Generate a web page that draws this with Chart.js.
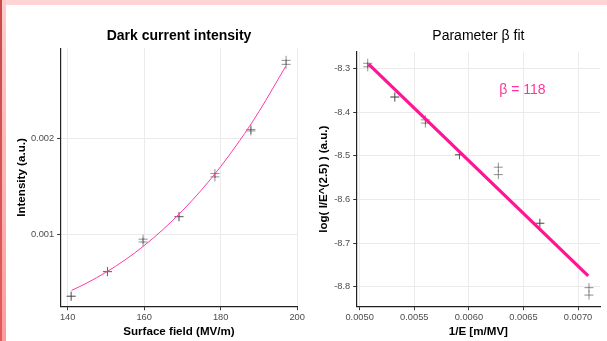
<!DOCTYPE html>
<html>
<head>
<meta charset="utf-8">
<script src="https://cdn.jsdelivr.net/npm/chart.js@4"></script>
<style>
  html, body { margin: 0; padding: 0; background: #fff; }
  body { width: 607px; height: 341px; position: relative; overflow: hidden; }
  .band-top { position: absolute; left: 0; top: 0; width: 607px; height: 5px; background: #ffd4d4; }
  .band-left { position: absolute; left: 0; top: 0; width: 6px; height: 341px;
    background: linear-gradient(#ffcccc, #ff9c9c); }
  .band-left-edge { position: absolute; left: 0; top: 0; width: 2px; height: 341px;
    background: linear-gradient(#c84a4a, #e35c5c); }
  .box { position: absolute; top: 0; }
</style>
</head>
<body>
<div class="band-top"></div>
<div class="band-left"></div>
<div class="band-left-edge"></div>
<div class="box" style="left:0"><canvas id="darkCurrent" width="330" height="341"></canvas></div>
<div class="box" style="left:300px"><canvas id="betaFit" width="307" height="341"></canvas></div>
<script>
// surface field (MV/m) and two intensity readings per field
const fieldMV = [140.9, 150.4, 159.7, 169.1, 178.5, 187.9, 197.1];
const intensityRun1 = [0.000355, 0.000609, 0.00095, 0.001184, 0.001637, 0.002098, 0.002822];
const intensityRun2 = [0.000350, 0.000612, 0.00092, 0.001188, 0.001602, 0.002083, 0.00278];

// fitted curve
const fitField = [141, 145, 150, 155, 160, 165, 170, 175, 180, 185, 190, 197];
const fitIntensity = [0.000413, 0.000491, 0.000603, 0.000733, 0.000883, 0.001054, 0.001248, 0.001466, 0.00171, 0.001983, 0.002285, 0.00276];

// Fowler-Nordheim plot: 1/E vs log(I/E^2.5)
const invField = [0.005074, 0.005322, 0.005602, 0.005914, 0.00627, 0.00665, 0.0071];
const logRun1 = [-8.288, -8.3645, -8.4175, -8.497, -8.526, -8.654, -8.802];
const logRun2 = [-8.296, -8.366, -8.425, -8.498, -8.543, -8.655, -8.819];

// straight line fit
const lineInv = [0.005082, 0.007093];
const lineLog = [-8.290, -8.775];
const betaValue = 118;
const betaPos = [0.00649, -8.349];

// ticks
const fieldTicks = [140, 160, 180, 200];
const intensityTicks = [0.001, 0.002];
const invTicks = [0.005, 0.0055, 0.006, 0.0065, 0.007];
const logTicks = [-8.8, -8.7, -8.6, -8.5, -8.4, -8.3];

const PINK = '#ff1493';
const CROSS = 'rgba(70,70,70,0.6)';

Chart.defaults.font.family = "'Liberation Sans', Arial, sans-serif";
Chart.defaults.animation = false;

function pts(xs, ys) {
  return xs.map((x, i) => ({ x: x, y: ys[i] }));
}

function crosses(xs, ys) {
  return {
    type: 'scatter',
    data: pts(xs, ys),
    pointStyle: 'cross',
    pointRadius: 4.5,
    borderColor: CROSS,
    borderWidth: 1
  };
}

// shared axis look
function axis(opts) {
  return {
    type: 'linear',
    min: opts.min,
    max: opts.max,
    afterBuildTicks: s => { s.ticks = opts.ticks.map(v => ({ value: v })); },
    afterFit: s => {
      if (opts.width) s.width = opts.width;
      if (opts.height) s.height = opts.height;
    },
    border: { color: '#222', width: 1.2 },
    grid: { color: '#ebebeb', lineWidth: 1, tickLength: 3.5, tickColor: '#333', tickWidth: 1 },
    ticks: {
      color: '#4d4d4d',
      font: { size: 9.3 },
      padding: opts.tickPad,
      callback: opts.format
    },
    title: {
      display: true,
      text: opts.title,
      color: '#000',
      font: { size: 11.6, weight: 'bold' },
      padding: opts.titlePad
    }
  };
}

// β label inside the fit panel
const betaLabel = {
  id: 'betaLabel',
  afterDatasetsDraw(chart) {
    const ctx = chart.ctx;
    const x = chart.scales.x.getPixelForValue(betaPos[0]);
    const y = chart.scales.y.getPixelForValue(betaPos[1]);
    ctx.save();
    ctx.fillStyle = '#ff3399';
    ctx.font = "14px 'Liberation Sans', Arial, sans-serif";
    ctx.textAlign = 'center';
    ctx.textBaseline = 'middle';
    ctx.fillText('β = ' + betaValue, x, y);
    ctx.restore();
  }
};

new Chart(document.getElementById('darkCurrent'), {
  type: 'scatter',
  data: {
    datasets: [
      {
        type: 'line',
        data: pts(fitField, fitIntensity),
        borderColor: '#ff3aa6',
        borderWidth: 1,
        pointRadius: 0,
        cubicInterpolationMode: 'monotone'
      },
      crosses(fieldMV, intensityRun1),
      crosses(fieldMV, intensityRun2)
    ]
  },
  options: {
    responsive: false,
    layout: { padding: { left: 12, right: 32.7, top: 0, bottom: 0 } },
    plugins: {
      legend: { display: false },
      tooltip: { enabled: false },
      title: {
        display: true,
        fullSize: false,
        text: 'Dark current intensity',
        color: '#000',
        font: { size: 14, weight: 'bold' },
        padding: { top: 27.6, bottom: 3.9 }
      }
    },
    scales: {
      x: axis({ min: 138.17, max: 200.03, ticks: fieldTicks, height: 34.3, tickPad: 1.5,
        title: 'Surface field (MV/m)', titlePad: { top: 0, bottom: 2 },
        format: v => String(v) }),
      y: axis({ min: 0.000243, max: 0.002948, ticks: intensityTicks, width: 48.7, tickPad: 3,
        title: 'Intensity (a.u.)', titlePad: { top: 2.7, bottom: 0 },
        format: v => v.toFixed(3) })
    }
  }
});

new Chart(document.getElementById('betaFit'), {
  type: 'scatter',
  data: {
    datasets: [
      {
        type: 'line',
        data: pts(lineInv, lineLog),
        borderColor: PINK,
        borderWidth: 3.2,
        pointRadius: 0
      },
      crosses(invField, logRun1),
      crosses(invField, logRun2)
    ]
  },
  options: {
    responsive: false,
    layout: { padding: { left: 12, right: 7, top: 0, bottom: 0 } },
    plugins: {
      legend: { display: false },
      tooltip: { enabled: false },
      title: {
        display: true,
        fullSize: false,
        text: 'Parameter β fit',
        color: '#000',
        font: { size: 14, weight: 'normal' },
        padding: { top: 27.6, bottom: 7.3 }
      }
    },
    scales: {
      x: axis({ min: 0.004973, max: 0.007201, ticks: invTicks, height: 34.3, tickPad: 1.5,
        title: '1/E [m/MV]', titlePad: { top: 0, bottom: 2 },
        format: v => v.toFixed(4) }),
      y: axis({ min: -8.8456, max: -8.2614, ticks: logTicks, width: 44.7, tickPad: 3,
        title: 'log( I/E^(2.5) ) (a.u.)', titlePad: { top: 5.3, bottom: 0 },
        format: v => v.toFixed(1) })
    }
  },
  plugins: [betaLabel]
});
</script>
</body>
</html>
